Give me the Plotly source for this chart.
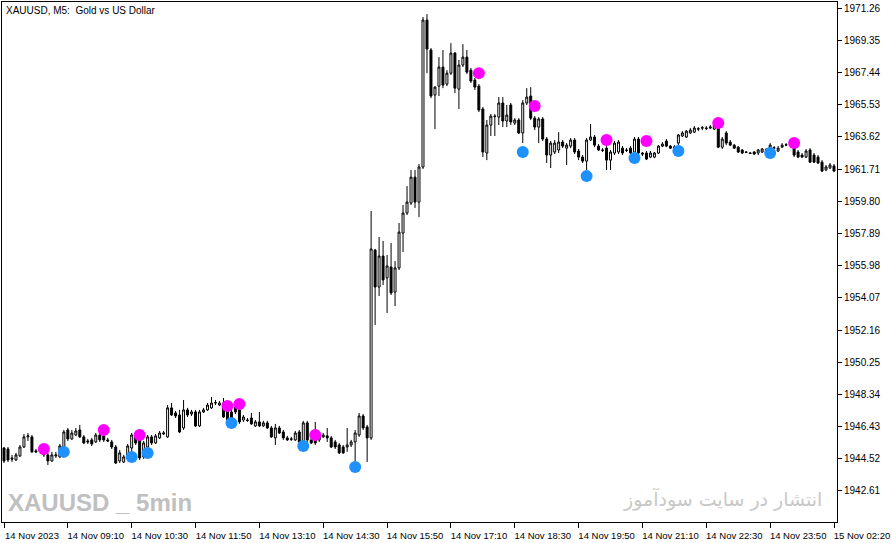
import plotly.graph_objects as go

# XAUUSD M5, 14 Nov 2023 - 15 Nov 2023
open_ = [
    1945.16, 1945.10, 1944.57, 1944.45, 1944.69, 1945.22, 1945.82, 1945.82, 1944.99, 1944.99,
    1945.10, 1944.75, 1944.39, 1944.69, 1944.63, 1945.22, 1946.23, 1945.70, 1945.93, 1946.23,
    1945.82, 1945.58, 1945.64, 1945.52, 1945.93, 1945.88, 1945.64, 1945.52, 1945.22, 1944.39,
    1944.33, 1944.57, 1945.16, 1945.82, 1945.64, 1944.63, 1945.22, 1945.82, 1945.46, 1945.76,
    1945.99, 1945.82, 1947.54, 1947.24, 1947.12, 1946.35, 1947.42, 1947.18, 1947.30, 1946.47,
    1947.30, 1947.42, 1947.54, 1947.83, 1947.71, 1947.83, 1947.42, 1947.30, 1947.59, 1947.42,
    1946.82, 1946.82, 1946.94, 1946.47, 1946.71, 1946.47, 1946.65, 1946.35, 1945.76, 1946.35,
    1946.11, 1945.76, 1945.70, 1945.64, 1946.11, 1945.52, 1946.65, 1945.64, 1946.23, 1945.64,
    1945.82, 1945.88, 1945.76, 1945.52, 1945.34, 1945.22, 1945.22, 1945.34, 1945.52, 1945.93,
    1947.06, 1946.41, 1945.76, 1956.90, 1954.71, 1956.55, 1955.25, 1955.90, 1954.41, 1955.84,
    1957.91, 1959.10, 1959.69, 1961.23, 1959.75, 1961.83, 1970.55, 1968.77, 1966.10, 1966.63,
    1967.76, 1966.75, 1967.40, 1968.59, 1966.45, 1967.88, 1968.35, 1967.58, 1966.99, 1966.63,
    1965.27, 1962.66, 1964.32, 1964.85, 1964.79, 1965.63, 1964.56, 1965.51, 1964.44, 1964.62,
    1963.85, 1965.63, 1966.04, 1964.73, 1964.20, 1964.68, 1963.49, 1962.54, 1962.72, 1962.84,
    1963.31, 1962.95, 1963.07, 1963.43, 1962.78, 1962.42, 1962.18, 1963.43, 1963.61, 1963.07,
    1962.84, 1962.95, 1962.24, 1962.66, 1962.72, 1962.95, 1962.84, 1962.95, 1962.72, 1963.49,
    1962.66, 1962.66, 1962.42, 1962.42, 1962.66, 1963.07, 1963.37, 1963.07, 1962.95, 1963.25,
    1963.67, 1963.61, 1963.85, 1963.90, 1964.08, 1964.14, 1964.14, 1964.14, 1964.08, 1964.14,
    1963.01, 1963.85, 1963.31, 1963.13, 1963.01, 1962.84, 1962.72, 1962.66, 1962.72, 1962.66,
    1962.72, 1962.84, 1962.84, 1962.95, 1962.78, 1963.01, 1963.13, 1963.13, 1963.01, 1962.72,
    1962.54, 1962.42, 1962.84, 1962.54, 1962.42, 1962.12, 1961.65, 1961.77, 1961.89,
]
high = [
    1945.22, 1945.22, 1944.75, 1944.87, 1945.34, 1945.99, 1946.05, 1945.93, 1945.10, 1945.22,
    1945.22, 1944.87, 1944.93, 1944.93, 1945.40, 1946.23, 1946.35, 1946.23, 1946.35, 1946.53,
    1945.93, 1945.70, 1945.76, 1946.05, 1946.05, 1946.23, 1945.76, 1945.64, 1945.34, 1945.04,
    1944.75, 1945.40, 1946.05, 1945.93, 1945.88, 1945.58, 1945.93, 1945.93, 1945.99, 1946.17,
    1946.17, 1947.71, 1947.83, 1947.36, 1947.42, 1948.01, 1947.54, 1947.42, 1947.42, 1947.42,
    1947.54, 1947.83, 1948.19, 1948.01, 1947.95, 1948.13, 1947.65, 1947.54, 1947.71, 1947.83,
    1947.12, 1946.94, 1947.24, 1946.82, 1947.30, 1946.77, 1946.77, 1946.47, 1946.59, 1946.47,
    1946.23, 1945.88, 1945.82, 1946.17, 1946.23, 1946.77, 1946.77, 1945.76, 1946.71, 1946.05,
    1946.05, 1946.35, 1945.88, 1945.64, 1945.46, 1945.34, 1946.35, 1945.64, 1946.23, 1947.24,
    1947.18, 1946.53, 1959.22, 1956.97, 1957.68, 1957.44, 1956.61, 1957.32, 1956.25, 1958.51,
    1959.58, 1960.70, 1961.65, 1961.65, 1962.01, 1970.73, 1970.90, 1968.89, 1966.63, 1968.35,
    1968.77, 1967.58, 1969.18, 1968.65, 1968.18, 1969.12, 1968.77, 1967.70, 1967.11, 1966.75,
    1965.39, 1964.62, 1964.97, 1964.97, 1965.98, 1965.98, 1965.51, 1965.63, 1964.73, 1964.73,
    1965.80, 1966.51, 1966.57, 1964.85, 1964.79, 1964.79, 1963.61, 1963.37, 1963.43, 1963.90,
    1963.43, 1963.25, 1963.55, 1963.55, 1962.90, 1962.54, 1963.55, 1964.38, 1963.73, 1963.19,
    1962.95, 1963.07, 1962.84, 1963.37, 1963.43, 1963.07, 1962.95, 1963.07, 1963.61, 1963.61,
    1962.72, 1962.78, 1962.78, 1962.72, 1963.13, 1963.31, 1963.49, 1963.13, 1963.13, 1963.79,
    1963.96, 1964.02, 1964.14, 1964.26, 1964.20, 1964.26, 1964.26, 1964.32, 1964.50, 1964.56,
    1963.61, 1963.96, 1963.43, 1963.19, 1963.07, 1962.90, 1962.78, 1962.72, 1962.78, 1962.90,
    1962.95, 1962.95, 1963.25, 1963.07, 1963.07, 1963.25, 1963.25, 1963.25, 1963.13, 1962.84,
    1962.66, 1962.90, 1962.95, 1962.66, 1962.54, 1962.24, 1961.95, 1962.07, 1962.01,
]
low = [
    1944.27, 1944.33, 1944.33, 1944.39, 1944.63, 1945.16, 1945.58, 1944.87, 1944.87, 1944.93,
    1944.63, 1944.15, 1944.33, 1944.57, 1944.57, 1945.16, 1945.58, 1945.64, 1945.88, 1945.76,
    1945.40, 1945.40, 1945.28, 1945.46, 1945.52, 1945.52, 1945.52, 1945.10, 1944.21, 1944.27,
    1944.27, 1944.45, 1944.57, 1945.34, 1944.45, 1944.51, 1945.10, 1945.34, 1945.40, 1945.70,
    1945.93, 1945.76, 1947.06, 1946.94, 1946.05, 1946.23, 1947.00, 1947.06, 1946.41, 1946.41,
    1947.24, 1947.36, 1947.48, 1947.71, 1947.65, 1946.94, 1946.77, 1946.53, 1947.18, 1946.59,
    1946.71, 1946.71, 1946.53, 1946.41, 1946.41, 1946.41, 1946.29, 1945.76, 1945.34, 1945.99,
    1945.64, 1945.58, 1945.58, 1945.58, 1945.40, 1945.40, 1945.52, 1945.40, 1945.34, 1945.52,
    1945.76, 1945.52, 1945.16, 1945.10, 1944.81, 1944.81, 1944.93, 1945.22, 1944.27, 1945.82,
    1946.23, 1944.33, 1945.64, 1952.46, 1954.18, 1954.83, 1953.17, 1954.24, 1953.58, 1955.72,
    1956.79, 1958.98, 1959.58, 1959.40, 1958.86, 1961.71, 1967.40, 1965.92, 1964.08, 1966.04,
    1966.51, 1966.63, 1967.29, 1966.22, 1965.27, 1967.76, 1967.35, 1966.81, 1966.40, 1965.09,
    1962.42, 1962.24, 1963.67, 1963.67, 1964.32, 1964.20, 1964.20, 1964.32, 1964.32, 1963.79,
    1963.25, 1965.51, 1964.62, 1964.02, 1963.25, 1963.37, 1962.07, 1961.77, 1962.60, 1962.66,
    1962.95, 1961.95, 1962.95, 1962.60, 1962.24, 1962.07, 1961.65, 1963.37, 1963.01, 1962.78,
    1962.72, 1961.65, 1961.65, 1962.54, 1962.60, 1962.54, 1962.72, 1962.54, 1962.60, 1962.54,
    1962.48, 1962.24, 1962.36, 1962.36, 1962.60, 1963.01, 1963.01, 1962.90, 1962.90, 1963.13,
    1963.61, 1963.55, 1963.79, 1963.85, 1963.96, 1964.02, 1964.02, 1964.08, 1964.02, 1962.95,
    1962.90, 1963.13, 1963.07, 1962.90, 1962.66, 1962.60, 1962.66, 1962.60, 1962.54, 1962.54,
    1962.66, 1962.78, 1962.78, 1962.90, 1962.72, 1962.95, 1963.07, 1963.07, 1962.42, 1962.36,
    1962.36, 1962.36, 1962.07, 1962.07, 1962.01, 1961.53, 1961.59, 1961.71, 1961.53,
]
close = [
    1944.39, 1944.45, 1944.51, 1944.75, 1945.22, 1945.82, 1945.88, 1944.93, 1944.93, 1945.10,
    1944.75, 1944.39, 1944.75, 1944.75, 1945.28, 1946.11, 1945.70, 1946.05, 1946.17, 1945.82,
    1945.46, 1945.52, 1945.40, 1945.93, 1945.64, 1945.64, 1945.58, 1945.22, 1944.27, 1944.87,
    1944.63, 1945.28, 1945.93, 1945.46, 1944.57, 1945.46, 1945.82, 1945.46, 1945.88, 1946.05,
    1946.05, 1947.54, 1947.12, 1947.06, 1946.11, 1947.42, 1947.12, 1947.30, 1946.47, 1947.30,
    1947.42, 1947.71, 1947.83, 1947.85, 1947.83, 1947.00, 1946.82, 1946.94, 1947.30, 1946.71,
    1947.00, 1946.80, 1946.59, 1946.71, 1946.47, 1946.65, 1946.35, 1945.82, 1946.35, 1946.05,
    1945.76, 1945.64, 1945.68, 1946.05, 1945.52, 1946.65, 1945.64, 1945.46, 1945.46, 1945.93,
    1945.93, 1945.76, 1945.22, 1945.22, 1944.87, 1944.87, 1945.34, 1945.52, 1946.05, 1947.06,
    1946.35, 1945.76, 1956.97, 1954.71, 1956.55, 1955.13, 1955.96, 1954.36, 1955.84, 1957.97,
    1959.10, 1959.75, 1961.23, 1959.75, 1961.83, 1970.55, 1968.83, 1966.04, 1966.57, 1967.76,
    1966.69, 1967.40, 1968.59, 1966.51, 1967.88, 1968.35, 1967.46, 1966.93, 1966.57, 1965.21,
    1962.72, 1964.32, 1964.85, 1964.83, 1965.63, 1964.56, 1964.91, 1964.50, 1964.62, 1963.85,
    1965.63, 1965.98, 1964.73, 1964.20, 1964.68, 1963.49, 1962.54, 1963.25, 1963.25, 1963.31,
    1963.07, 1963.13, 1963.43, 1962.72, 1962.42, 1962.18, 1963.43, 1963.61, 1963.13, 1962.84,
    1962.82, 1962.24, 1962.72, 1963.25, 1963.31, 1962.66, 1962.82, 1962.66, 1963.49, 1962.66,
    1962.60, 1962.30, 1962.66, 1962.66, 1963.07, 1963.19, 1963.07, 1962.95, 1963.01, 1963.73,
    1963.85, 1963.96, 1964.02, 1964.14, 1964.10, 1964.16, 1964.12, 1964.20, 1964.32, 1963.01,
    1963.49, 1963.25, 1963.13, 1962.95, 1962.72, 1962.66, 1962.70, 1962.64, 1962.60, 1962.84,
    1962.90, 1962.86, 1963.13, 1962.97, 1962.95, 1963.13, 1963.15, 1963.11, 1962.54, 1962.42,
    1962.42, 1962.78, 1962.12, 1962.12, 1962.07, 1961.59, 1961.83, 1961.95, 1961.59,
]
assert len(open_) == len(high) == len(low) == len(close)

# señales del indicador (índice de vela, precio)
buy_idx = [15, 32, 36, 57, 75, 88, 130, 146, 158, 169, 192]
buy_price = [1944.93, 1944.63, 1944.87, 1946.65, 1945.28, 1944.03,
             1962.72, 1961.29, 1962.36, 1962.78, 1962.66]
sell_idx = [10, 25, 34, 56, 59, 78, 119, 133, 151, 161, 179, 198]
sell_price = [1945.10, 1946.23, 1945.93, 1947.65, 1947.77, 1945.93,
              1967.40, 1965.45, 1963.43, 1963.37, 1964.44, 1963.25]

# etiquetas del eje de tiempo (cada 16 velas)
time_ticks = list(range(0, 209, 16))
time_labels = ['14 Nov 2023', '14 Nov 09:10', '14 Nov 10:30', '14 Nov 11:50',
               '14 Nov 13:10', '14 Nov 14:30', '14 Nov 15:50', '14 Nov 17:10',
               '14 Nov 18:30', '14 Nov 19:50', '14 Nov 21:10', '14 Nov 22:30',
               '14 Nov 23:50', '15 Nov 02:20']
price_ticks = [1971.26, 1969.35, 1967.44, 1965.53, 1963.62, 1961.71, 1959.80,
               1957.89, 1955.98, 1954.07, 1952.16, 1950.25, 1948.34, 1946.43,
               1944.52, 1942.61]

bars = list(range(len(close)))
font = 'Liberation Sans, Arial, sans-serif'

fig = go.Figure()

fig.add_trace(go.Candlestick(
    x=bars, open=open_, high=high, low=low, close=close,
    increasing=dict(line=dict(color='black', width=1), fillcolor='white'),
    decreasing=dict(line=dict(color='black', width=1), fillcolor='black'),
    whiskerwidth=0,
    hoverinfo='skip',
    showlegend=False
))

fig.add_trace(go.Scatter(
    x=buy_idx, y=buy_price, mode='markers',
    marker=dict(color='#1e90ff', size=12, line=dict(width=0)),
    hoverinfo='skip', showlegend=False
))

fig.add_trace(go.Scatter(
    x=sell_idx, y=sell_price, mode='markers',
    marker=dict(color='#ff00ff', size=12, line=dict(width=0)),
    hoverinfo='skip', showlegend=False
))

# título y marcas de agua
fig.add_annotation(
    text='XAUUSD, M5:  Gold vs US Dollar', xref='paper', yref='paper',
    x=0.002, y=0.998, xanchor='left', yanchor='top', showarrow=False,
    font=dict(family=font, size=10, color='black')
)
fig.add_annotation(
    text='<b>XAUUSD _ 5min</b>', xref='paper', yref='paper',
    x=0.005, y=0.008, xanchor='left', yanchor='bottom', showarrow=False,
    font=dict(family=font, size=24, color='#c0c0c0')
)
fig.add_annotation(
    text='انتشار در سایت سودآموز', xref='paper', yref='paper',
    x=0.984, y=0.045, xanchor='right', yanchor='middle', showarrow=False,
    font=dict(family='DejaVu Sans, sans-serif', size=19, color='#c8c8c8')
)

fig.update_layout(
    width=892, height=543,
    margin=dict(l=2, r=55, t=2, b=21),
    paper_bgcolor='white', plot_bgcolor='white',
    showlegend=False,
    xaxis=dict(
        range=[-0.5, 208.75], showgrid=False, zeroline=False, automargin=False,
        rangeslider=dict(visible=False),
        showline=True, linecolor='black', linewidth=1, mirror=True,
        ticks='outside', ticklen=5, tickcolor='black',
        tickvals=time_ticks, ticktext=time_labels,
        ticklabelshift=28, ticklabelstandoff=0, ticklabeloverflow='allow',
        tickfont=dict(family=font, size=9.5, color='black')
    ),
    yaxis=dict(
        side='right', range=[1940.77, 1971.62], showgrid=False, zeroline=False,
        automargin=False,
        showline=True, linecolor='black', linewidth=1, mirror=True,
        ticks='outside', ticklen=4, tickcolor='black',
        tickvals=price_ticks, ticktext=[f'{p:.2f}' for p in price_ticks],
        ticklabeloverflow='allow',
        tickfont=dict(family=font, size=10, color='black')
    )
)

# quitar el margen por defecto del <body> para que el gráfico ocupe la ventana
fig.write_html("out.html", config={'displayModeBar': False},
               post_script="document.body.style.margin='0';")
